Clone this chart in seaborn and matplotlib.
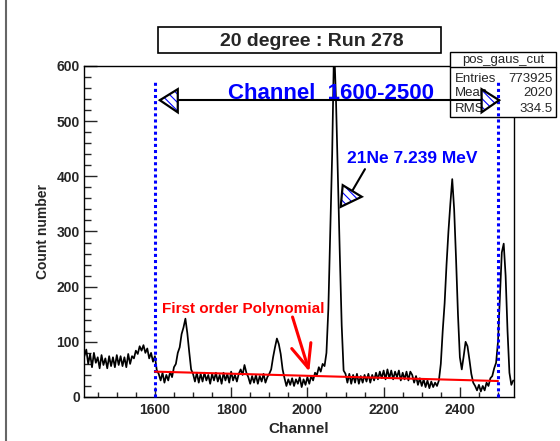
import numpy as np
import pandas as pd
import matplotlib
matplotlib.use("Agg")
import matplotlib.pyplot as plt
import seaborn as sns
from matplotlib.patches import Polygon, Rectangle
from matplotlib.lines import Line2D
from matplotlib.ticker import MultipleLocator

# ---------------- data ----------------
channels = list(range(1415, 2541, 5))
counts = [
    74, 86, 60, 78, 54, 80, 62, 72, 52, 76,       # 1415-1460
    58, 70, 52, 74, 56, 72, 54, 76, 58, 74,       # 1465-1510
    56, 72, 54, 78, 60, 74, 70, 84, 78, 92,       # 1515-1560
    84, 94, 80, 88, 70, 80, 64, 74, 48, 42,       # 1565-1610
    30, 44, 26, 40, 30, 46, 36, 54, 60, 80,       # 1615-1660
    90, 114, 126, 142, 116, 82, 50, 42, 28, 44,   # 1665-1710
    26, 42, 28, 44, 30, 40, 24, 42, 30, 44,       # 1715-1760
    28, 40, 24, 44, 30, 42, 26, 46, 30, 40,       # 1765-1810
    28, 42, 50, 40, 58, 44, 36, 24, 38, 26,       # 1815-1860
    40, 24, 38, 28, 42, 26, 36, 42, 50, 72,       # 1865-1910
    90, 106, 96, 78, 50, 34, 20, 32, 22, 34,      # 1915-1960
    20, 32, 24, 36, 18, 32, 22, 36, 24, 38,       # 1965-2010
    30, 44, 40, 54, 46, 60, 56, 80, 160, 300,     # 2015-2060
    440, 640, 540, 400, 260, 130, 48, 42, 26, 42, # 2065-2110
    24, 40, 26, 42, 24, 38, 26, 40, 28, 42,       # 2115-2160
    26, 40, 30, 44, 32, 46, 34, 48, 32, 50,       # 2165-2210
    34, 48, 32, 46, 36, 48, 30, 44, 32, 46,       # 2215-2260
    30, 46, 40, 26, 38, 22, 34, 20, 32, 18,       # 2265-2310
    30, 16, 28, 18, 26, 20, 30, 60, 120, 170,     # 2315-2360
    240, 300, 350, 395, 340, 250, 150, 72, 50, 74,# 2365-2410
    100, 92, 68, 42, 26, 20, 12, 22, 10, 20,      # 2415-2460
    12, 26, 20, 34, 38, 52, 62, 100, 180, 262,    # 2465-2510
    278, 220, 120, 44, 22, 30,                    # 2515-2540
]
fit_x = [1600, 2500]
fit_y = [46, 29]
range_lo, range_hi = 1600, 2500

title_text = "20 degree : Run 278"
stats_name = "pos_gaus_cut"
stats_labels = ["Entries", "Mean", "RMS"]
stats_values = ["773925", "2020", "334.5"]
x_ticks = [1600, 1800, 2000, 2200, 2400]
y_ticks = [0, 100, 200, 300, 400, 500, 600]

# ---------------- style ----------------
sns.set_theme(style="white")
plt.rcParams["font.family"] = ["Liberation Sans", "DejaVu Sans"]
plt.rcParams["hatch.linewidth"] = 0.8

W, H = 560, 441
fig = plt.figure(figsize=(W / 100, H / 100), dpi=100)
fig.patch.set_facecolor("white")

L, T, R, B = 84, 66, 514, 397
ax = fig.add_axes([L / W, 1 - B / H, (R - L) / W, (B - T) / H])
ax.set_facecolor("white")

df = pd.DataFrame({"Channel": channels, "Count": counts})
sns.lineplot(data=df, x="Channel", y="Count", color="black", lw=1.25,
             ax=ax, zorder=3)

ax.set_xlim(1414, 2542)
ax.set_ylim(0, 600)

for s in ax.spines.values():
    s.set_color("black")
    s.set_linewidth(1.0)

ax.set_xticks(x_ticks)
ax.set_yticks(y_ticks)
ax.xaxis.set_minor_locator(MultipleLocator(50))
ax.yaxis.set_minor_locator(MultipleLocator(20))
ax.tick_params(axis="x", which="major", direction="in", length=7.2, width=1,
               pad=4, labelsize=10, bottom=True, top=False)
ax.tick_params(axis="x", which="minor", direction="in", length=3.6, width=1,
               bottom=True, top=False)
ax.tick_params(axis="y", which="major", direction="in", length=9.4, width=1,
               pad=3, labelsize=10, left=True, right=False)
ax.tick_params(axis="y", which="minor", direction="in", length=4.7, width=1,
               left=True, right=False)
for lab in ax.get_xticklabels() + ax.get_yticklabels():
    lab.set_fontweight("bold")

ax.set_xlabel("Channel", fontsize=11, fontweight="bold", labelpad=4)
ax.set_ylabel("Count number", fontsize=10, fontweight="bold", labelpad=5)

figtr = fig.transFigure

def fx(px):
    return px / W

def fy(py):
    return 1 - py / H

# stats box (below the annotations)
SX0, SX1 = 450, 556
ax.add_patch(Rectangle((fx(SX0), fy(117)), fx(SX1) - fx(SX0), fy(52) - fy(117),
                       transform=figtr, facecolor="white", edgecolor="black",
                       lw=1, clip_on=False, zorder=4))
ax.add_artist(Line2D([fx(SX0), fx(SX1)], [fy(67), fy(67)], transform=figtr,
                     color="black", lw=1, clip_on=False, zorder=4.1))
ax.text(fx((SX0 + SX1) / 2), fy(62.5), stats_name, transform=figtr, ha="center",
        va="baseline", fontsize=9.5, zorder=4.2, clip_on=False)
for i, (lab, val) in enumerate(zip(stats_labels, stats_values)):
    yb = 81.5 + 15 * i
    ax.text(fx(455), fy(yb), lab, transform=figtr, ha="left", va="baseline",
            fontsize=9.5, zorder=4.2, clip_on=False)
    ax.text(fx(SX1 - 3), fy(yb), val, transform=figtr, ha="right", va="baseline",
            fontsize=9.5, zorder=4.2, clip_on=False)

# title box
ax.add_patch(Rectangle((fx(158), fy(53)), fx(441) - fx(158), fy(27) - fy(53),
                       transform=figtr, facecolor="white", edgecolor="black",
                       lw=1.2, clip_on=False, zorder=4))
ax.text(fx(312), fy(46), title_text, transform=figtr, ha="center",
        va="baseline", fontsize=14, fontweight="bold", zorder=4.2, clip_on=False)

# range markers
blue = "#0000ff"
for xv in (range_lo, range_hi):
    ax.plot([xv, xv], [0, 574], color=blue, lw=2.2, ls=(0, (1, 1)),
            dash_capstyle="butt", zorder=5, clip_on=False)

# fit line
ax.plot(fit_x, fit_y, color="red", lw=1.5, zorder=5)


def hatched_triangle(pts):
    ax.add_patch(Polygon(pts, closed=True, facecolor="white", edgecolor=blue,
                         hatch="\\\\\\\\", lw=0, zorder=6, clip_on=False))
    ax.add_patch(Polygon(pts, closed=True, fill=False, edgecolor="black",
                         lw=1.6, zorder=6.1, clip_on=False, joinstyle="miter"))

# double arrow over the range
ax.plot([1613, 2503], [538, 538], color="black", lw=1.5, zorder=5.5)
hatched_triangle([(1613, 538), (1660, 558), (1660, 516)])
hatched_triangle([(2503, 538), (2457, 558), (2457, 516)])
ax.text(2062, 540, "Channel  1600-2500", color=blue, fontsize=16,
        fontweight="bold", ha="center", va="baseline", zorder=5.8)

# 21Ne peak arrow
ax.plot([2151, 2117.6], [413, 373.5], color="black", lw=1.5, zorder=5.5)
hatched_triangle([(2087.4, 344.7), (2092.7, 384), (2142.5, 363)])
ax.text(2104, 424, "21Ne 7.239 MeV", color=blue, fontsize=12.5,
        fontweight="bold", ha="left", va="baseline", zorder=5.8)

# polynomial annotation
ax.text(1618, 153, "First order Polynomial", color="red", fontsize=11,
        fontweight="bold", ha="left", va="baseline", zorder=5.8)
ax.annotate("", xy=(2005, 46), xytext=(1961, 145),
            arrowprops=dict(arrowstyle="->,head_length=1.4,head_width=0.6",
                            color="red", lw=2.2, shrinkA=0, shrinkB=0),
            zorder=5.8)

# canvas border line on the left
fig.add_artist(Line2D([fx(6), fx(6)], [0, 1], transform=figtr,
                      color="#666666", lw=1.5))

fig.savefig("out.png", dpi=100, facecolor="white")
